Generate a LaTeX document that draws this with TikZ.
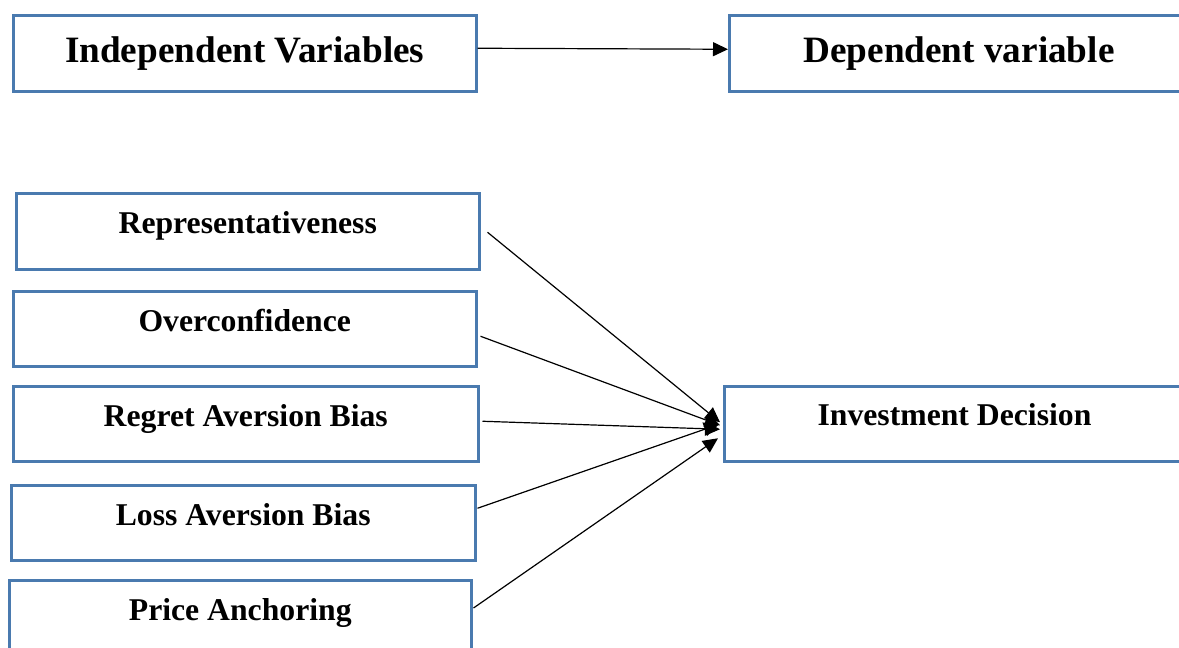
\documentclass[tikz,border=0pt]{standalone}
\usepackage{fontspec}
\setmainfont{Liberation Serif}
\usetikzlibrary{arrows.meta,calc}
\definecolor{boxblue}{RGB}{74,122,175}
\begin{document}
\begin{tikzpicture}[x=1pt,y=-1pt,
  vbox/.style={draw=boxblue,line width=2.5pt,rectangle,inner sep=0pt,anchor=north west},
  bigtxt/.style={font=\fontsize{37.2}{40}\selectfont\bfseries,anchor=base,inner sep=0pt},
  smtxt/.style={font=\fontsize{31.7}{36}\selectfont\bfseries,anchor=base,inner sep=0pt},
  conn/.style={line width=1.2pt,-{Triangle[length=15pt,width=14pt]}},
  dconn/.style={line width=1.2pt,-{Triangle[length=15pt,width=14pt]}}]
\useasboundingbox (0,0) rectangle (1179,648);
% top row
\node[vbox,minimum width=463pt,minimum height=76pt] (iv) at (12,14) {};
\node[vbox,minimum width=480pt,minimum height=76pt] (dv) at (728,14) {};
\node[bigtxt] (ivt) at ($(iv.north)+(0,48)$) {Independent Variables};
\node[bigtxt] (dvt) at (959,62) {Dependent variable};
% independent boxes
\node[vbox,minimum width=463pt,minimum height=76pt] (rep) at (15,192) {};
\node[vbox,minimum width=463pt,minimum height=75pt] (over) at (12,290) {};
\node[vbox,minimum width=465pt,minimum height=75pt] (reg) at (12,385) {};
\node[vbox,minimum width=464pt,minimum height=75pt] (loss) at (10,484) {};
\node[vbox,minimum width=462pt,minimum height=100pt] (price) at (8,579) {};
\node[vbox,minimum width=480pt,minimum height=75pt] (inv) at (723,385) {};
\node[smtxt] (rept) at ($(rep.north)+(0,41)$) {Representativeness};
\node[smtxt] (overt) at ($(over.north)+(0,41)$) {Overconfidence};
\node[smtxt] (regt) at ($(reg.north)+(0,41)$) {Regret Aversion Bias};
\node[smtxt] (losst) at ($(loss.north)+(0,41)$) {Loss Aversion Bias};
\node[smtxt] (pricet) at ($(price.north)+(0,41)$) {Price Anchoring};
\node[smtxt] (invt) at (954.5,425) {Investment Decision};
% connectors
\draw[conn] ([yshift=5pt]iv.east) -- ([yshift=4pt]dv.west);
\draw[dconn] ([xshift=7pt,yshift=-1pt]rep.east) -- ([xshift=-3pt,yshift=1.5pt]inv.west);
\draw[dconn] ([xshift=3pt,yshift=-7.5pt]over.east) -- ([xshift=-3pt,yshift=-1.5pt]inv.west);
\draw[dconn] ([xshift=3pt,yshift=2.5pt]reg.east) -- ([xshift=-3pt,yshift=-5.5pt]inv.west);
\draw[dconn] ([xshift=1pt,yshift=14.5pt]loss.east) -- ([xshift=-4pt,yshift=-0.5pt]inv.west);
\draw[dconn] ([xshift=1pt,yshift=-29pt]price.north east) -- ([xshift=-5pt,yshift=-14.5pt]inv.west);
\end{tikzpicture}
\end{document}
